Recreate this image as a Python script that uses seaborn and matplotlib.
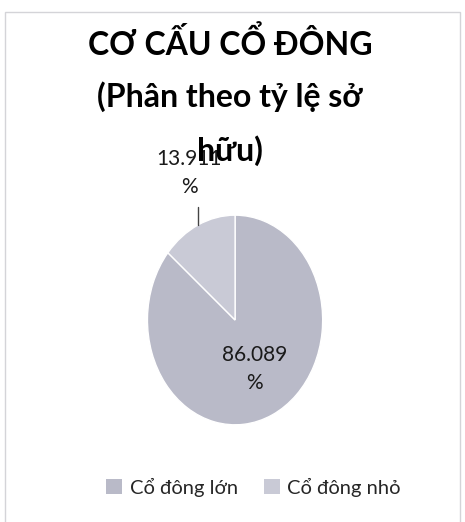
import matplotlib
matplotlib.use("Agg")
import matplotlib.pyplot as plt
import matplotlib.patches as mpatches
import numpy as np
import seaborn as sns

labels = ["Cổ đông lớn", "Cổ đông nhỏ"]
values = [86.089, 13.911]
colors = ["#b9bac8", "#c9cad6"]
title_lines = ["CƠ CẤU CỔ ĐÔNG", "(Phân theo tỷ lệ sở", "hữu)"]

sns.set_theme(style="white")
plt.rcParams['font.family'] = ['Lato', 'DejaVu Sans']

fig = plt.figure(figsize=(4.65, 5.22), dpi=100, facecolor="white")

# light frame like the pasted chart area
fig.patches.append(mpatches.Rectangle((5 / 465, -0.02), 455 / 465, 1 - 12 / 522 + 0.02,
                                      transform=fig.transFigure, fill=False,
                                      edgecolor="#d4d4d8", linewidth=1.0))

# wrapped title, one text per line (Excel-like wide line gaps)
for i, line in enumerate(title_lines):
    fig.text(0.495, 1 - (43 + 54 * i) / 522, line, ha="center", va="center",
             fontsize=23, fontweight="bold", color="black")

ax = fig.add_axes([0.270, 0.136, 0.471, 0.502])
wedges, texts, autotexts = ax.pie(values, colors=colors, startangle=90, counterclock=False,
                                  autopct=lambda p: f"{p:.3f}\n%", pctdistance=0.52,
                                  textprops=dict(fontsize=15, color="#1a1a1a"))
ax.set_aspect("auto")
ax.set_xlim(-1.25, 1.25)
ax.set_ylim(-1.25, 1.25)

# small slice: label outside with vertical leader line
w = wedges[1]
ang = np.deg2rad((w.theta1 + w.theta2) / 2)
xe, ye = np.cos(ang), np.sin(ang)
ax.plot([xe, xe], [ye, ye + 0.17], color="#444444", lw=1, clip_on=False)
autotexts[1].set_position((xe - 0.1, ye + 0.5))
for t in autotexts:
    t.set_linespacing(1.5)

handles = [mpatches.Patch(facecolor=c, edgecolor="none") for c in colors]
fig.legend(handles, labels, loc="center", bbox_to_anchor=(0.545, 1 - 487 / 522), ncol=2,
           frameon=False, fontsize=14.5, handlelength=0.8, handleheight=0.8,
           handletextpad=0.35, columnspacing=1.3)

fig.savefig("out.png", dpi=100, facecolor="white")
